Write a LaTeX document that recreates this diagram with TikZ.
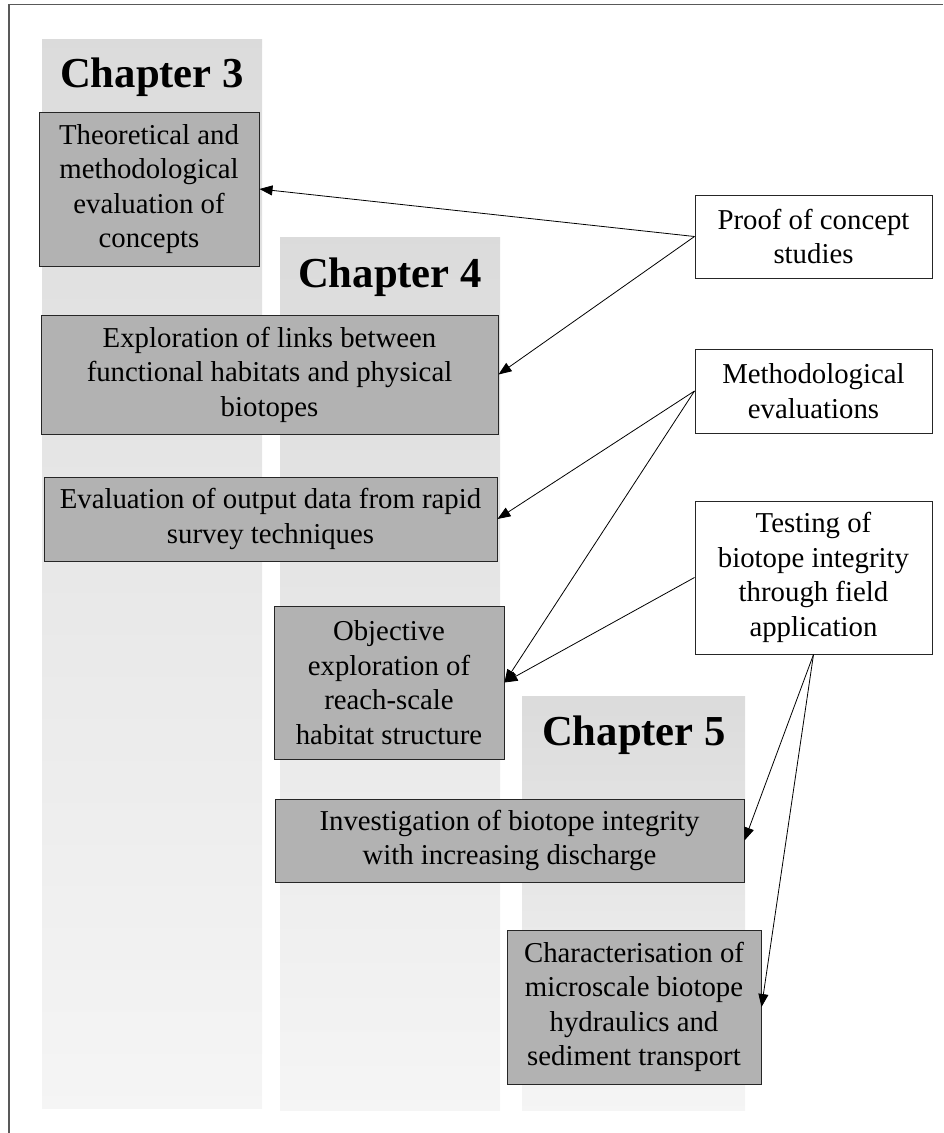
\documentclass[tikz,border=0pt]{standalone}
\usepackage{fontspec}
\setmainfont{Liberation Serif}
\usetikzlibrary{arrows.meta}

\begin{document}
\begin{tikzpicture}[
    x=1pt,y=-1pt,
    col/.style={top color=black!14,bottom color=black!4,draw=none},
    chap/.style={anchor=base,inner sep=0pt,font=\fontsize{42.7}{50}\selectfont\bfseries},
    box/.style={draw=black!85,line width=1pt,align=center,inner sep=0pt,font=\fontsize{28.8}{34.5}\selectfont},
    gbox/.style={box,fill=black!30},
    wbox/.style={box,fill=white,minimum width=237pt},
    link/.style={-{Triangle[length=13pt,width=10pt]},line width=0.8pt}
    ]
    \useasboundingbox (0,0) rectangle (943,1133);
    \draw[black!65,line width=1.5pt] (9,1133) -- (9,4.5) -- (943,4.5);
    % chapter columns
    \shade[col] (42,39) rectangle (262,1108);
    \shade[col] (280,237) rectangle (500,1110);
    \shade[col] (522,696) rectangle (745,1110);
    \node[chap] (ch3) at (152,87) {Chapter 3};
    \node[chap] (ch4) at (390,287) {Chapter 4};
    \node[chap] (ch5) at (634,745) {Chapter 5};
    % studies
    \node[gbox,minimum width=220pt,minimum height=154pt] (theo) at (149,189)
      {Theoretical and\\methodological\\evaluation of\\concepts};
    \node[gbox,minimum width=457pt,minimum height=119pt] (links) at (269.5,374.5)
      {Exploration of links between\\functional habitats and physical\\biotopes};
    \node[gbox,minimum width=453pt,minimum height=84pt] (output) at (270.5,519)
      {Evaluation of output data from rapid\\survey techniques};
    \node[gbox,minimum width=230pt,minimum height=153pt] (objective) at (389,682.5)
      {Objective\\exploration of\\reach-scale\\habitat structure};
    \node[gbox,minimum width=469pt,minimum height=83pt] (invest) at (509.5,840.5)
      {Investigation of biotope integrity\\with increasing discharge};
    \node[gbox,minimum width=254pt,minimum height=154pt] (charac) at (634,1007)
      {Characterisation of\\microscale biotope\\hydraulics and\\sediment transport};
    % aims
    \node[wbox,minimum height=83pt] (proof) at (813.5,236.5) {Proof of concept\\studies};
    \node[wbox,minimum height=84pt] (meth) at (813.5,391) {Methodological\\evaluations};
    \node[wbox,minimum height=153pt] (testing) at (813.5,577.5)
      {Testing of\\biotope integrity\\through field\\application};
    \draw[link] (proof.west) -- (theo.east);
    \draw[link] (proof.west) -- (links.east);
    \draw[link] (meth.west) -- (output.east);
    \draw[link] (meth.west) -- (objective.east);
    \draw[link] (testing.west) -- (objective.east);
    \draw[link] (testing.south) -- (invest.east);
    \draw[link] (testing.south) -- (charac.east);
\end{tikzpicture}
\end{document}
